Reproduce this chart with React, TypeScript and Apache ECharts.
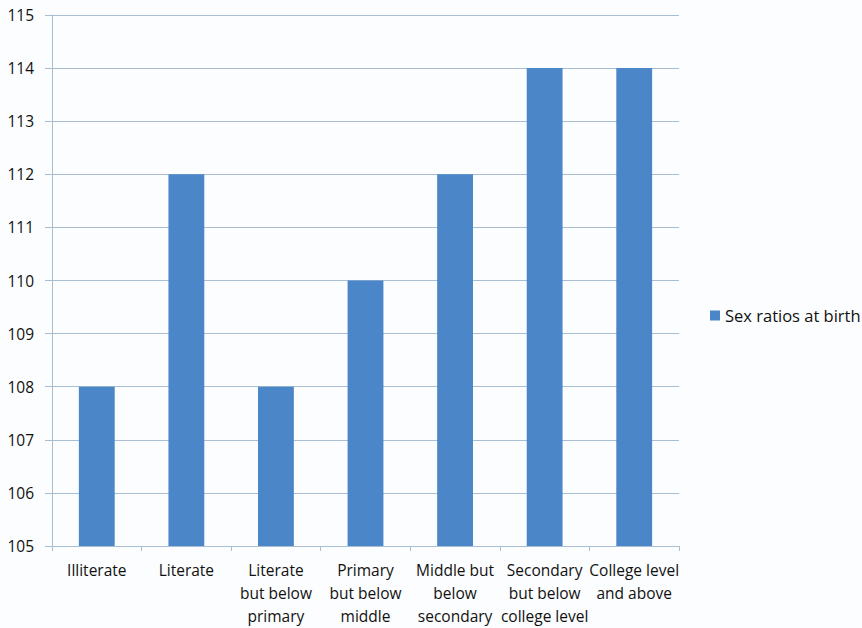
import React, { useEffect, useRef } from "react";
import * as echarts from "echarts";

const categories = [
  "Illiterate",
  "Literate",
  "Literate\nbut below\nprimary",
  "Primary\nbut below\nmiddle",
  "Middle but\nbelow\nsecondary",
  "Secondary\nbut below\ncollege level",
  "College level\nand above",
];
const values = [108, 112, 108, 110, 112, 114, 114];
const seriesName = "Sex ratios at birth";

export default function App() {
  const ref = useRef<HTMLDivElement>(null);
  useEffect(() => {
    const chart = echarts.init(ref.current!, null, { renderer: "svg" });
    const font = "'Open Sans', 'Liberation Sans', sans-serif";
    const axisColor = "#a9bed3";
    chart.setOption({
      animation: false,
      backgroundColor: "#fcfdfe",
      grid: { left: 52, right: 183, top: 15, bottom: 82, containLabel: false },
      legend: {
        left: 705,
        top: 302,
        icon: "rect",
        itemWidth: 10,
        itemHeight: 10,
        itemGap: 5,
        textStyle: { fontFamily: font, fontSize: 16.5, color: "#111" },
        data: [seriesName],
      },
      xAxis: {
        type: "category",
        data: categories,
        axisLine: { lineStyle: { color: axisColor } },
        axisTick: { show: true, length: 5, lineStyle: { color: axisColor } },
        axisLabel: {
          interval: 0,
          margin: 12,
          fontFamily: font,
          fontSize: 15.5,
          lineHeight: 23,
          color: "#111",
        },
      },
      yAxis: {
        type: "value",
        min: 105,
        max: 115,
        interval: 1,
        axisLine: { show: true, lineStyle: { color: axisColor } },
        axisTick: { show: true, length: 7, lineStyle: { color: axisColor } },
        splitLine: { lineStyle: { color: axisColor } },
        axisLabel: {
          margin: 18,
          fontFamily: font,
          fontSize: 15.5,
          color: "#111",
        },
      },
      series: [
        {
          name: seriesName,
          type: "bar",
          data: values,
          barWidth: "40%",
          itemStyle: { color: "#4a86c8" },
        },
      ],
    });
    return () => chart.dispose();
  }, []);
  return (
    <div
      ref={ref}
      style={{ position: "fixed", left: 0, top: 0, width: 862, height: 628 }}
    />
  );
}
